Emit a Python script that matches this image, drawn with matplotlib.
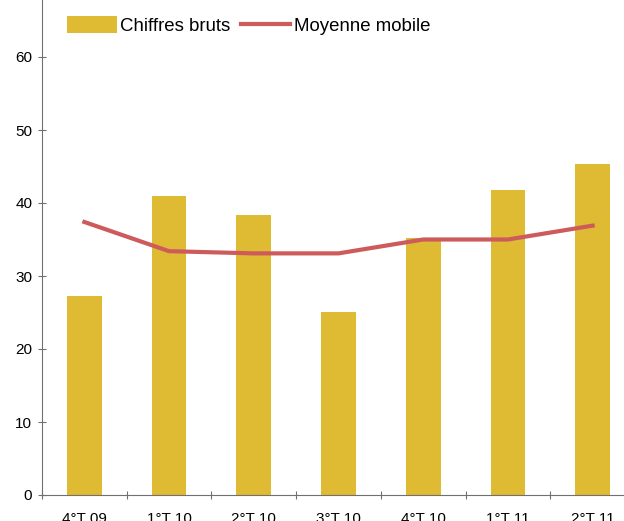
import matplotlib.pyplot as plt
import numpy as np

plt.rcParams['font.family'] = ['Liberation Sans', 'DejaVu Sans']

quarters = ['4°T 09', '1°T 10', '2°T 10', '3°T 10', '4°T 10', '1°T 11', '2°T 11']
raw = [27.3, 41.0, 38.4, 25.1, 35.2, 41.8, 45.3]
moving_avg = [37.4, 33.4, 33.1, 33.1, 35.0, 35.0, 36.9]

bar_color = '#DFBA33'
line_color = '#CD5B5B'

fig = plt.figure(figsize=(6.24, 5.21), dpi=100)
# axes deliberately run past the top and right edge, as in the source image
ax = fig.add_axes([42 / 624, 26 / 521, 593 / 624, 511 / 521])

x = np.arange(len(quarters))
bars = ax.bar(x, raw, width=0.41, color=bar_color, label='Chiffres bruts', zorder=2)
line, = ax.plot(x, moving_avg, color=line_color, lw=3, label='Moyenne mobile', zorder=3)

ax.set_xlim(-0.5, len(quarters) - 0.5)
ax.set_ylim(0, 70)
ax.set_yticks(np.arange(0, 70, 10))
ax.set_xticks(np.arange(-0.5, len(quarters), 1.0))
ax.set_xticklabels([])
ax.set_xticks(x, minor=True)
ax.set_xticklabels(quarters, minor=True)

for s in ['top', 'right']:
    ax.spines[s].set_visible(False)
for s in ['left', 'bottom']:
    ax.spines[s].set_color('#707070')

ax.tick_params(axis='y', direction='inout', length=6, color='#707070',
               labelsize=11, pad=4)
ax.tick_params(axis='x', which='major', direction='inout', length=6,
               color='#707070')
ax.tick_params(axis='x', which='minor', length=0, labelsize=11, pad=12)

ax.legend(handles=[bars, line], loc='upper left',
          bbox_to_anchor=(0.03, 1.0 - 25 / 511), ncol=2,
          frameon=False, fontsize=13.4, handlelength=2.65, handleheight=1.0,
          handletextpad=0.2, columnspacing=0.55, borderaxespad=0)

fig.savefig('out.png', dpi=100)
